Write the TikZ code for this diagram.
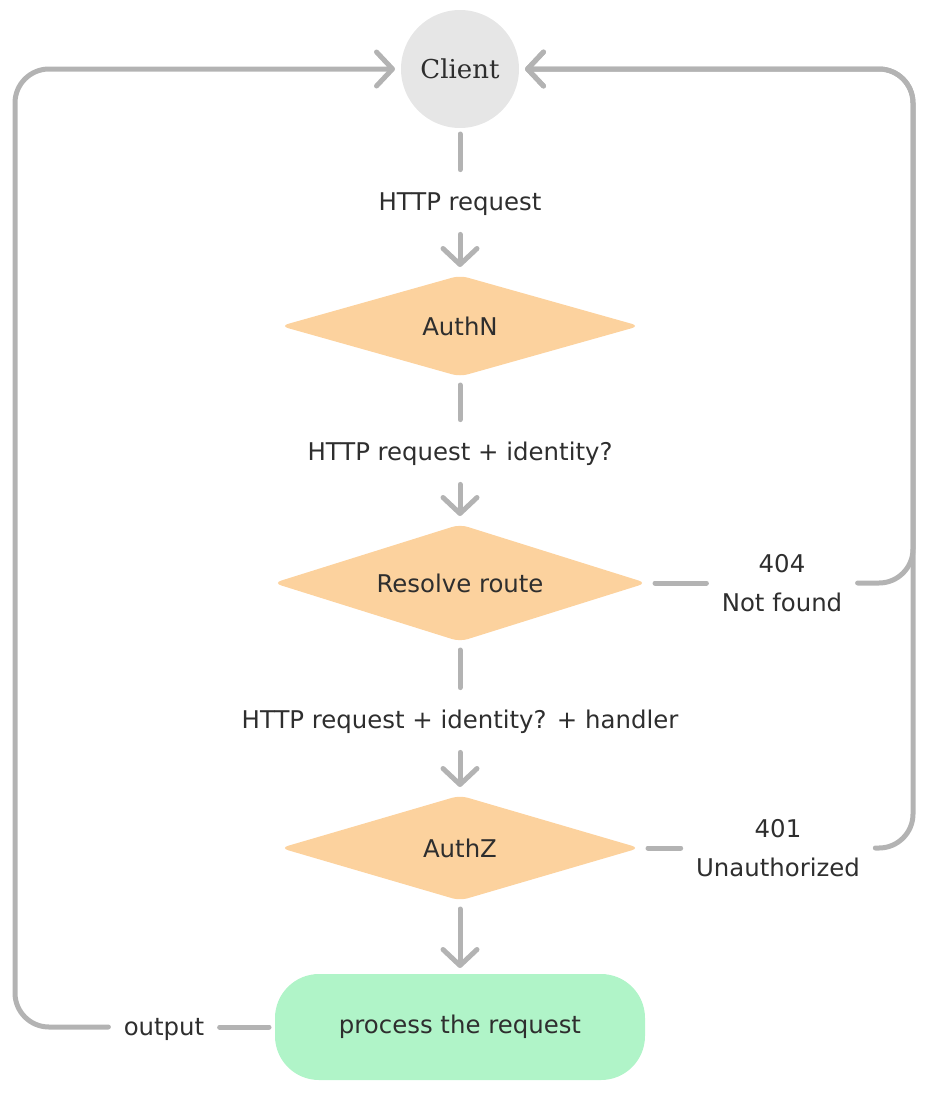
\documentclass[tikz,border=0pt]{standalone}
\usepackage{fontspec}
\setmainfont{DejaVu Sans}
\newfontfamily\clientfont{DejaVu Serif}
\usetikzlibrary{shapes.geometric,arrows.meta}
\definecolor{flowGray}{HTML}{B3B3B3}
\definecolor{flowText}{HTML}{2E2E2E}
\definecolor{flowClient}{HTML}{E6E6E6}
\definecolor{flowOrange}{HTML}{FCD29E}
\definecolor{flowGreen}{HTML}{B0F4C8}

\begin{document}
\begin{tikzpicture}[x=0.5pt, y=-0.5pt,
    every node/.style={text=flowText, font=\fontsize{12.2}{14}\selectfont},
    conn/.style={line width=2.5pt, flowGray, line cap=round, line join=round},
    arr/.style={conn, -{Straight Barb[length=8pt, width=17pt, line cap=round, line join=round]}},
    client/.style={circle, fill=flowClient, minimum size=59pt, outer sep=3pt,
        font=\clientfont\fontsize{13}{15}\selectfont},
    check/.style={diamond, aspect=3.4, fill=flowOrange, rounded corners=4pt, inner sep=0pt, outer sep=3pt},
    task/.style={rectangle, fill=flowGreen, rounded corners=22pt, minimum width=185pt,
        minimum height=53pt, outer sep=3pt},
    lbl/.style={text height=10pt, text depth=2pt, inner ysep=10pt, inner xsep=7.5pt},
    side/.style={align=center, inner xsep=7.5pt, font=\fontsize{12.2}{19.5}\selectfont}]
\useasboundingbox (0,0) rectangle (930,1098);

% main column
\node[client] (client) at (460,69) {Client};
\node[lbl] (lreq) at (460,202) {HTTP request};
\node[check, minimum width=182pt, minimum height=53pt] (authn) at (460,326) {AuthN};
\node[lbl] (lid) at (460,452) {HTTP request + identity?};
\node[check, minimum width=189pt, minimum height=61pt] (resolve) at (460,583) {Resolve route};
\node[lbl] (lhand) at (460,720) {HTTP request + identity? + handler};
\node[check, minimum width=182pt, minimum height=55pt] (authz) at (460,848) {AuthZ};
\node[task] (process) at (460,1027) {process the request};

% side labels
\node[side] (l404) at (782,583) {404\\Not found};
\node[side] (l401) at (778,848) {401\\Unauthorized};
\node[lbl] (lout) at (164,1027) {output};
\coordinate (rtop) at (913,69);
\coordinate (ltop) at (15,69);

% connectors
\draw[conn] (client) -- (lreq);
\draw[arr] (lreq) -- (authn);
\draw[conn] (authn) -- (lid);
\draw[arr] (lid) -- (resolve);
\draw[conn] (resolve) -- (lhand);
\draw[arr] (lhand) -- (authz);
\draw[arr] (authz) -- (process);

% way back to the client
\draw[conn] (resolve) -- (l404);
\draw[arr, rounded corners=17pt] (l404) -| (rtop) -- (client);
\draw[conn] (authz) -- (l401);
\draw[arr, rounded corners=17pt] (l401) -| (rtop) -- (client);
\draw[conn] (process) -- (lout);
\draw[arr, rounded corners=17pt] (lout) -| (ltop) -- (client);
\end{tikzpicture}
\end{document}
